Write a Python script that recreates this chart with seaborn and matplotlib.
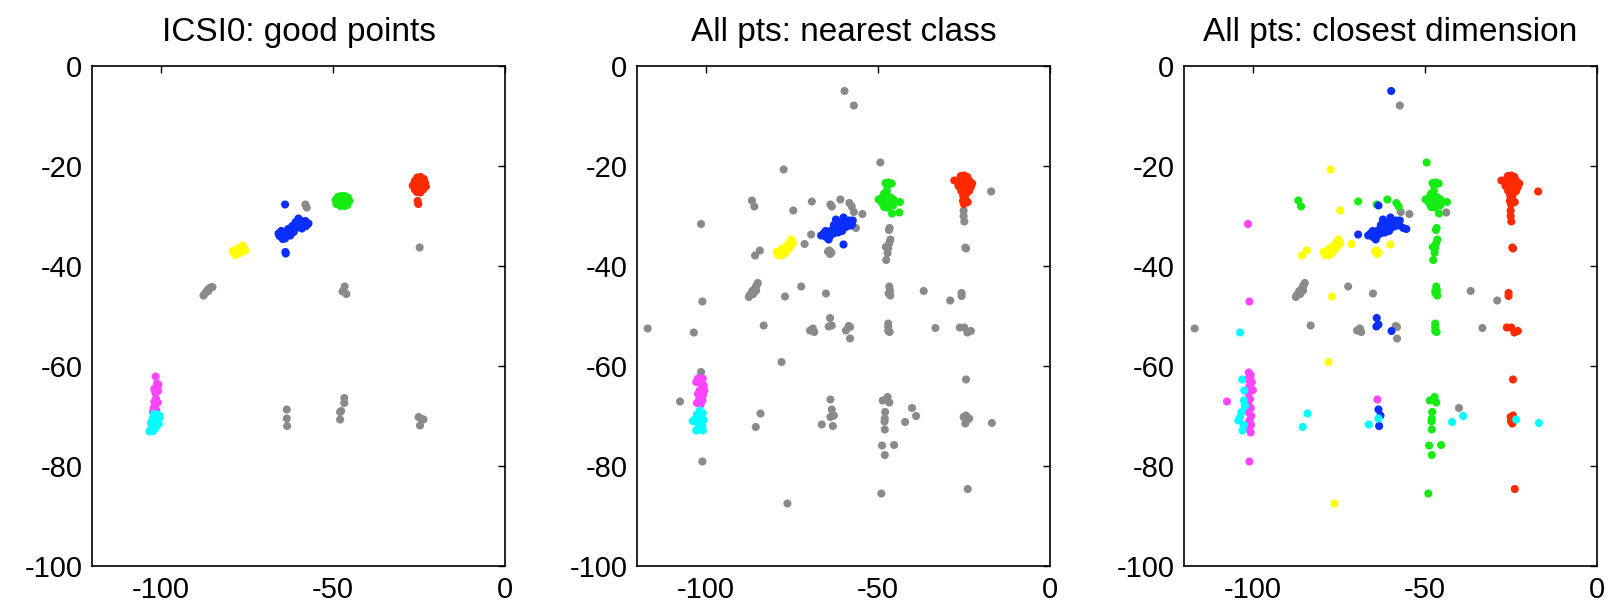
import matplotlib
matplotlib.use('Agg')
import matplotlib.pyplot as plt
import seaborn as sns
import pandas as pd

# Point data (x, y) grouped by panel and class colour

# Panel 1: ICSI0 good points
p1_gray = [(-58.0, -27.7), (-57.6, -28.3), (-24.8, -36.3),
           (-87.6, -45.9), (-87.2, -45.5), (-86.8, -45.2), (-86.4, -44.8), (-86.0, -44.5),
           (-85.5, -44.3), (-85.0, -44.2), (-86.2, -45.0),
           (-46.6, -44.1), (-47.2, -45.1), (-46.1, -45.6),
           (-63.4, -68.7), (-63.4, -70.5), (-63.3, -72.0),
           (-46.7, -66.4), (-46.7, -67.4), (-47.9, -69.2), (-47.6, -69.0), (-47.9, -70.7),
           (-25.1, -70.2), (-23.7, -70.7), (-24.3, -70.6), (-24.7, -71.9)]
p1_red = [(-25.5, -22.3), (-24.5, -22.2), (-23.6, -22.6), (-26.2, -23.0), (-25.0, -23.2),
          (-23.2, -23.4), (-26.8, -23.9), (-25.8, -24.0), (-24.4, -24.0), (-23.0, -24.1),
          (-26.2, -24.7), (-25.0, -24.9), (-23.8, -24.7), (-25.6, -25.2), (-24.6, -25.3),
          (-25.4, -27.0), (-25.2, -27.6)]
p1_green = [(-49.2, -26.8), (-48.6, -26.2), (-47.6, -26.0), (-46.6, -26.0), (-45.6, -26.3),
            (-45.2, -27.0), (-46.2, -27.4), (-47.4, -27.2), (-48.5, -27.5), (-47.8, -28.0),
            (-46.6, -28.0), (-49.0, -27.6), (-47.2, -26.6), (-45.8, -27.8)]
p1_blue = [(-65.8, -33.5), (-64.8, -34.2), (-63.9, -34.5), (-63.4, -33.2), (-62.4, -32.5),
           (-61.4, -33.2), (-60.5, -32.2), (-59.5, -31.9), (-58.5, -31.2), (-57.1, -31.5),
           (-60.0, -30.5), (-59.0, -32.5), (-62.4, -33.9), (-64.3, -33.2), (-57.8, -32.0),
           (-65.0, -33.0), (-64.0, -33.8), (-63.0, -33.8), (-62.0, -33.0), (-61.0, -32.6),
           (-60.2, -31.6), (-59.2, -31.0), (-58.0, -31.0), (-61.8, -32.0), (-63.0, -32.6),
           (-65.5, -34.0), (-64.6, -34.6), (-60.8, -31.2),
           (-63.9, -27.7), (-63.8, -37.2), (-63.7, -37.5)]
p1_yellow = [(-78.7, -37.4), (-77.9, -36.9), (-76.7, -36.5), (-76.0, -36.2), (-75.4, -36.9),
             (-79.1, -37.0), (-77.1, -37.4), (-76.3, -35.9), (-78.3, -37.8), (-77.5, -36.4),
             (-75.8, -36.6), (-76.5, -37.0), (-78.0, -37.2)]
p1_magenta = [(-101.5, -62.1), (-101.1, -63.5), (-101.2, -64.2), (-101.3, -64.9), (-100.8, -65.0),
              (-101.6, -65.4), (-101.4, -66.6), (-101.9, -67.2), (-101.6, -67.8), (-102.1, -68.4),
              (-102.3, -69.2), (-100.7, -63.8), (-101.9, -64.6), (-100.9, -67.3), (-101.3, -68.9)]
p1_cyan = [(-102.0, -69.6), (-101.0, -69.7), (-100.3, -70.3), (-102.4, -70.5), (-101.3, -70.9),
           (-100.6, -71.6), (-102.0, -71.8), (-101.5, -72.4), (-102.8, -72.6), (-103.3, -73.1),
           (-102.3, -73.0), (-100.4, -69.9), (-101.7, -71.2), (-102.9, -71.4)]

# shared pieces of panels 2 and 3
gray_blob = [(-87.5, -46.2), (-87.2, -45.8), (-86.8, -45.5), (-86.5, -45.0), (-86.0, -44.8),
             (-85.6, -44.3), (-85.2, -43.8), (-84.9, -43.4), (-86.2, -45.6), (-85.4, -44.9)]
red_blob = [(-25.9, -22.0), (-24.9, -21.9), (-24.0, -22.2), (-27.8, -22.9), (-26.8, -22.9),
            (-25.5, -23.0), (-23.4, -23.0), (-26.6, -24.0), (-25.3, -24.0), (-24.2, -24.0),
            (-23.0, -24.2), (-22.6, -23.5), (-25.8, -25.0), (-24.6, -25.1), (-23.5, -25.0),
            (-25.2, -26.0), (-24.5, -25.8), (-25.3, -27.0), (-24.4, -27.3), (-25.0, -27.6),
            (-23.9, -27.2)]
green_blob = [(-47.8, -23.4), (-46.9, -23.3), (-46.0, -23.5), (-47.3, -24.0), (-48.2, -25.5),
              (-47.4, -25.0), (-49.8, -26.7), (-49.0, -26.4), (-48.2, -26.6), (-47.2, -26.5),
              (-46.3, -26.3), (-45.5, -26.7), (-48.8, -27.4), (-47.8, -27.6), (-46.6, -27.5),
              (-45.6, -27.9), (-47.2, -28.3), (-48.2, -28.2), (-43.6, -27.2), (-45.9, -29.5)]
blue_blob = [(-66.5, -33.9), (-65.8, -33.5), (-65.1, -34.2), (-64.3, -34.7), (-64.6, -33.2),
             (-63.6, -32.9), (-62.9, -33.5), (-62.2, -32.5), (-61.2, -32.2), (-60.4, -33.0),
             (-59.7, -31.5), (-58.8, -31.2), (-57.8, -31.9), (-57.3, -30.9), (-58.3, -30.9),
             (-62.2, -30.7), (-60.0, -30.3), (-59.3, -32.2), (-65.2, -33.0), (-63.9, -34.0),
             (-61.6, -33.3), (-60.8, -32.0), (-58.8, -32.0), (-59.8, -30.8), (-57.5, -31.6),
             (-62.8, -31.8), (-64.6, -33.8), (-61.5, -31.4)]
yellow_blob = [(-78.8, -37.5), (-78.0, -37.9), (-78.1, -37.0), (-77.0, -37.4), (-76.2, -36.7),
               (-75.5, -36.2), (-74.7, -35.5), (-75.2, -34.7), (-77.2, -36.5), (-79.4, -37.2),
               (-78.4, -37.0), (-77.6, -37.0), (-76.6, -36.0), (-75.8, -35.4), (-74.9, -35.0),
               (-79.0, -37.8), (-77.8, -36.5)]

# Panel 2: all points, nearest class
p2_gray = gray_blob + [
    (-59.7, -5.0), (-57.0, -7.9), (-49.3, -19.3), (-77.4, -20.7), (-86.6, -26.9), (-85.9, -28.1),
    (-69.2, -27.1), (-74.6, -28.9), (-63.8, -27.7), (-63.4, -28.1), (-60.9, -26.7), (-58.3, -27.4),
    (-57.6, -28.1), (-57.0, -29.2), (-54.5, -29.6), (-101.4, -31.6), (-56.4, -32.4), (-69.4, -33.7),
    (-71.3, -35.6), (-84.3, -36.9), (-85.7, -37.9), (-64.1, -36.9), (-63.5, -37.3), (-64.5, -37.1),
    (-63.9, -37.6), (-46.6, -32.4), (-46.8, -32.8), (-46.4, -34.7), (-46.7, -35.4), (-47.7, -36.2),
    (-47.0, -36.4), (-47.2, -37.4), (-47.6, -38.8), (-25.1, -28.9), (-25.1, -30.0), (-24.9, -31.1),
    (-24.6, -36.3), (-24.4, -36.5), (-17.1, -25.1),
    (-72.3, -44.1), (-77.0, -46.1), (-65.1, -45.5), (-46.7, -44.1), (-46.5, -44.9), (-46.9, -45.5),
    (-46.4, -45.9), (-36.7, -45.0), (-29.0, -46.9), (-25.7, -45.4), (-25.7, -46.0), (-101.0, -47.1),
    (-116.9, -52.5), (-103.5, -53.3), (-83.2, -51.9), (-69.7, -52.9), (-68.9, -52.5), (-68.5, -53.2),
    (-63.9, -50.4), (-64.3, -52.1), (-63.4, -51.9), (-59.3, -52.9), (-58.5, -52.0), (-58.1, -52.2),
    (-58.1, -54.5), (-47.0, -51.5), (-47.0, -52.2), (-47.0, -53.0), (-46.6, -53.2), (-33.3, -52.4),
    (-26.2, -52.3), (-24.9, -52.3), (-24.0, -53.3), (-23.0, -53.0),
    (-78.0, -59.2), (-24.4, -62.7), (-101.4, -61.2), (-107.5, -67.1),
    (-63.8, -66.7), (-63.4, -68.7), (-63.8, -70.2), (-62.8, -69.9), (-66.3, -71.7), (-63.1, -72.0),
    (-84.1, -69.5), (-85.5, -72.2), (-48.6, -66.9), (-47.2, -66.2), (-46.7, -67.3), (-47.9, -69.2),
    (-48.0, -70.5), (-48.1, -71.1), (-48.0, -72.7), (-48.8, -75.9), (-45.3, -75.8), (-48.0, -77.8),
    (-42.1, -71.2), (-40.1, -68.4), (-38.9, -70.0), (-25.1, -70.2), (-24.4, -69.9), (-23.9, -70.7),
    (-23.5, -70.5), (-24.6, -71.5), (-16.9, -71.4), (-101.0, -79.1), (-49.0, -85.5), (-23.9, -84.6),
    (-76.3, -87.5)]
p2_red = red_blob
p2_green = green_blob + [(-43.8, -29.3)]
p2_blue = blue_blob + [(-60.0, -35.7)]
p2_yellow = yellow_blob
p2_magenta = [(-102.3, -62.5), (-100.9, -62.5), (-101.5, -63.5), (-102.8, -63.2), (-100.4, -64.9),
              (-101.8, -64.9), (-101.3, -65.9), (-102.0, -66.9), (-101.0, -66.9), (-101.5, -67.7),
              (-102.6, -67.4), (-100.6, -63.9), (-102.3, -65.6), (-100.8, -65.8)]
p2_cyan = [(-101.8, -68.9), (-100.9, -69.4), (-102.6, -69.7), (-101.3, -70.3), (-103.8, -71.0),
           (-102.3, -71.4), (-101.0, -71.9), (-102.8, -72.9), (-100.9, -72.9), (-102.0, -72.2),
           (-100.6, -70.8), (-102.9, -70.5), (-101.6, -72.7)]

# Panel 3: all points, closest dimension
p3_gray = gray_blob + [
    (-57.3, -7.9), (-57.0, -29.2), (-54.5, -29.6), (-43.8, -29.3), (-72.3, -44.1), (-65.1, -45.5),
    (-36.7, -45.0), (-29.0, -46.9), (-116.9, -52.5), (-83.2, -51.9), (-69.7, -52.9), (-68.9, -52.5),
    (-68.5, -53.2), (-58.5, -52.0), (-58.1, -52.2), (-58.1, -54.5), (-33.3, -52.4), (-40.1, -68.4)]
p3_red = red_blob + [
    (-25.1, -28.9), (-25.1, -30.0), (-24.9, -31.1), (-24.6, -36.3), (-24.4, -36.5), (-17.1, -25.1),
    (-25.7, -45.4), (-25.7, -46.0), (-26.2, -52.3), (-24.9, -52.3), (-24.0, -53.3), (-23.0, -53.0),
    (-24.4, -62.7), (-25.1, -70.2), (-24.4, -69.9), (-24.6, -71.5), (-25.0, -71.0), (-23.9, -84.6)]
p3_green = green_blob + [
    (-49.5, -19.3), (-86.8, -26.9), (-86.0, -28.1), (-69.4, -27.1), (-64.0, -27.7), (-60.9, -26.7),
    (-58.3, -27.4), (-57.6, -28.1), (-46.6, -32.4), (-46.8, -32.8), (-46.4, -34.7), (-46.7, -35.4),
    (-47.7, -36.2), (-47.0, -36.4), (-47.2, -37.4), (-47.6, -38.8), (-46.7, -44.1), (-46.5, -44.9),
    (-46.9, -45.5), (-46.4, -45.9), (-47.0, -45.0), (-47.0, -51.5), (-47.0, -52.2), (-47.0, -53.0),
    (-46.6, -53.2), (-48.6, -66.9), (-47.2, -66.2), (-46.7, -67.3), (-47.9, -69.2), (-48.0, -70.5),
    (-48.1, -71.1), (-48.0, -72.7), (-48.8, -75.9), (-45.3, -75.8), (-48.0, -77.8), (-49.0, -85.5)]
p3_blue = blue_blob + [
    (-59.8, -5.0), (-63.5, -27.9), (-69.4, -33.7), (-56.3, -32.4), (-55.4, -32.6), (-64.0, -50.4),
    (-64.1, -52.1), (-63.5, -51.7), (-59.7, -53.0), (-63.5, -68.7), (-62.9, -69.9), (-63.3, -72.0)]
p3_yellow = yellow_blob + [
    (-77.4, -20.7), (-74.6, -28.9), (-71.3, -35.6), (-84.3, -36.9), (-85.7, -37.9), (-64.1, -36.9),
    (-63.5, -37.3), (-64.5, -37.1), (-63.9, -37.6), (-60.0, -35.7), (-77.0, -46.1), (-78.0, -59.2),
    (-76.3, -87.5)]
p3_magenta = [
    (-101.4, -31.6), (-101.0, -47.1), (-107.5, -67.1), (-63.8, -66.7), (-101.0, -79.1),
    (-101.2, -61.3), (-100.6, -61.8), (-101.5, -62.6), (-100.3, -63.2), (-101.0, -64.0),
    (-100.0, -64.8), (-101.3, -65.5), (-100.8, -66.6), (-101.4, -67.4), (-100.6, -68.4),
    (-101.2, -69.3), (-100.4, -70.0), (-101.0, -70.9), (-100.5, -71.8), (-101.2, -72.5),
    (-100.6, -73.3)]
p3_cyan = [
    (-103.1, -62.7), (-102.5, -64.9), (-102.6, -66.9), (-102.3, -68.0), (-103.3, -69.2),
    (-104.2, -70.9), (-103.7, -70.2), (-103.0, -72.9), (-102.6, -71.8),
    (-103.7, -53.3), (-84.1, -69.5), (-85.5, -72.2), (-66.3, -71.7), (-63.5, -70.5),
    (-42.1, -71.2), (-38.9, -70.0), (-23.5, -70.7), (-16.9, -71.4)]

titles = ['ICSI0: good points', 'All pts: nearest class', 'All pts: closest dimension']
x_ticks = [-100, -50, 0]
y_ticks = [0, -20, -40, -60, -80, -100]

palette = {'gray': '#8a8a8a', 'red': '#ff2a00', 'green': '#14ec14', 'blue': '#0a2eff',
           'yellow': '#ffff00', 'magenta': '#ff44ff', 'cyan': '#00ffff'}

panels = [
    {'gray': p1_gray, 'red': p1_red, 'green': p1_green, 'blue': p1_blue,
     'yellow': p1_yellow, 'magenta': p1_magenta, 'cyan': p1_cyan},
    {'gray': p2_gray, 'red': p2_red, 'green': p2_green, 'blue': p2_blue,
     'yellow': p2_yellow, 'magenta': p2_magenta, 'cyan': p2_cyan},
    {'gray': p3_gray, 'red': p3_red, 'green': p3_green, 'blue': p3_blue,
     'yellow': p3_yellow, 'magenta': p3_magenta, 'cyan': p3_cyan},
]

rows = []
for i, groups in enumerate(panels):
    for cls, pts in groups.items():
        for x, y in pts:
            rows.append((i, x, y, cls))
df = pd.DataFrame(rows, columns=['panel', 'x', 'y', 'cls'])

sns.set_style('white')
plt.rcParams['font.family'] = ['Liberation Sans', 'DejaVu Sans']
plt.rcParams['axes.unicode_minus'] = False
plt.rcParams['text.color'] = 'black'

fig = plt.figure(figsize=(16.09, 6.11), dpi=100)
lefts = [92, 637, 1184]
for i, left in enumerate(lefts):
    ax = fig.add_axes([left / 1609, 45 / 611, 413 / 1609, 500 / 611])
    sub = df[df['panel'] == i]
    sns.scatterplot(data=sub, x='x', y='y', hue='cls', palette=palette, s=34,
                    linewidth=0, alpha=1, legend=False, ax=ax)
    ax.set_xlim(-120, 0)
    ax.set_ylim(-100, 0)
    ax.set_xticks(x_ticks)
    ax.set_yticks(y_ticks)
    ax.set_xlabel('')
    ax.set_ylabel('')
    ax.set_title(titles[i], fontsize=24, pad=18, color='black')
    ax.tick_params(direction='in', top=True, right=True, length=5, width=1,
                   labelsize=21, colors='black')
    ax.tick_params(axis='x', pad=7)
    ax.tick_params(axis='y', pad=7)
    for sp in ax.spines.values():
        sp.set_visible(True)
        sp.set_color('black')
        sp.set_linewidth(1.2)

plt.savefig('out.png', dpi=100)
